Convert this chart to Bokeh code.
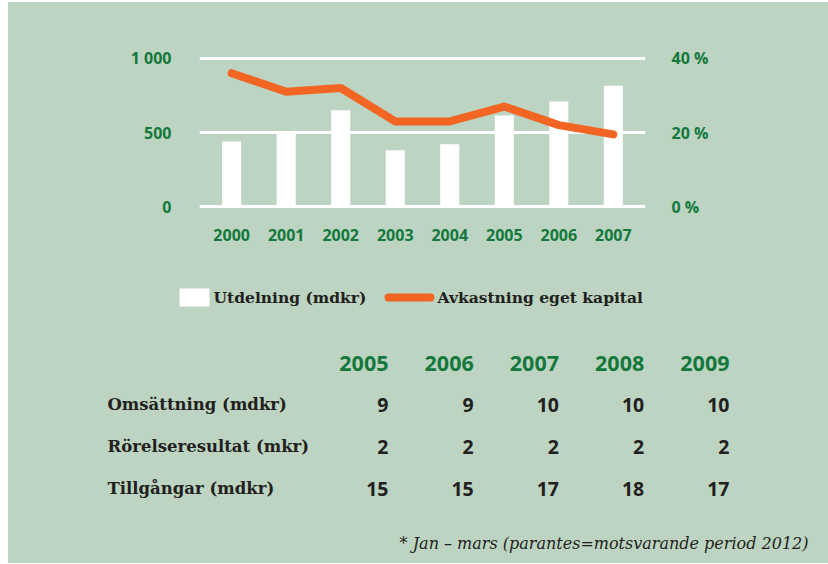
from bokeh.plotting import figure
from bokeh.models import (Range1d, FactorRange, LinearAxis, FixedTicker, ColumnDataSource)
from bokeh.layouts import column
from bokeh.core.properties import value
from bokeh.embed import file_html
from bokeh.resources import INLINE

# ---------------- data ----------------
years = ["2000", "2001", "2002", "2003", "2004", "2005", "2006", "2007"]
utdelning = [440, 500, 650, 380, 420, 615, 710, 815]          # mdkr
avkastning = [36, 31, 32, 23, 23, 27, 22, 19.5]               # %
left_ticks = [0, 500, 1000]
left_tick_labels = ["0", "500", "1 000"]
right_ticks = [0, 20, 40]
right_tick_labels = ["0 %", "20 %", "40 %"]

table_years = ["2005", "2006", "2007", "2008", "2009"]
row_labels = ["Omsättning (mdkr)", "Rörelseresultat (mkr)", "Tillgångar (mdkr)"]
omsattning = [9, 9, 10, 10, 10]
rorelseresultat = [2, 2, 2, 2, 2]
tillgangar = [15, 15, 17, 18, 17]
legend_labels = ["Utdelning (mdkr)", "Avkastning eget kapital"]
footnote = "* Jan – mars (parantes=motsvarande period 2012)"

# ---------------- styles ----------------
BG = "#bcd4c1"
GREEN = "#14783c"
ORANGE = "#f26522"
DARK = "#231f20"
SANS = "Open Sans"
SERIF = "DejaVu Serif"

OFF_X, OFF_Y = 8, 2
W = 820
HA = 263
HB = 561 - HA

# ---------------- chart ----------------
pA = figure(width=W, height=HA, output_backend="svg", toolbar_location=None,
            x_range=FactorRange(*years, range_padding=0.09, range_padding_units="absolute"),
            y_range=Range1d(-60, 1060), y_axis_location=None,
            min_border_left=191, min_border_right=183, min_border_top=47, min_border_bottom=50)
pA.title.visible = False
pA.frame_align = False
pA.background_fill_color = BG
pA.border_fill_color = BG
pA.outline_line_color = None
pA.extra_y_ranges = {"pct": Range1d(-60 * 0.04, 1060 * 0.04)}

pA.xgrid.grid_line_color = None
pA.ygrid.ticker = FixedTicker(ticks=left_ticks)
pA.ygrid.grid_line_color = "white"
pA.ygrid.grid_line_width = 3
pA.ygrid.level = "underlay"

src = ColumnDataSource(dict(year=years, utd=utdelning, avk=avkastning))
pA.vbar(x="year", top="utd", bottom=0, width=0.35, source=src,
        fill_color="white", line_color=None)
pA.line(x="year", y="avk", source=src, y_range_name="pct",
        line_color=ORANGE, line_width=8, line_cap="round", line_join="round")

def style_axis(ax, standoff):
    ax.axis_line_color = None
    ax.major_tick_line_color = None
    ax.minor_tick_line_color = None
    ax.major_tick_out = 0
    ax.major_tick_in = 0
    ax.major_label_standoff = standoff
    ax.major_label_text_font = SANS
    ax.major_label_text_font_style = "bold"
    ax.major_label_text_font_size = "16px"
    ax.major_label_text_color = GREEN

xa = pA.xaxis[0]
style_axis(xa, 13)

la = LinearAxis(ticker=FixedTicker(ticks=left_ticks),
                major_label_overrides={t: l for t, l in zip(left_ticks, left_tick_labels)})
style_axis(la, 28)
pA.add_layout(la, "left")

ra = LinearAxis(y_range_name="pct", ticker=FixedTicker(ticks=right_ticks),
                major_label_overrides={t: l for t, l in zip(right_ticks, right_tick_labels)})
style_axis(ra, 26)
pA.add_layout(ra, "right")

# ---------------- legend + table ----------------
pB = figure(width=W, height=HB, output_backend="svg", toolbar_location=None,
            x_range=Range1d(0, W), y_range=Range1d(HB, 0),
            x_axis_type=None, y_axis_type=None,
            min_border=0, min_border_left=0, min_border_right=0,
            min_border_top=0, min_border_bottom=0)
pB.title.visible = False
pB.frame_align = False
pB.background_fill_color = BG
pB.border_fill_color = BG
pB.outline_line_color = None
pB.grid.grid_line_color = None

# layout positions (px) relative to this panel
ox = OFF_X
oy = OFF_Y + HA
leg_y = 297 - oy
pB.rect(x=[194 - ox], y=[leg_y], width=30, height=18, fill_color="white", line_color=None)
pB.line(x=[388 - ox, 430 - ox], y=[leg_y, leg_y], line_color=ORANGE, line_width=8, line_cap="round")
pB.text(x=[213 - ox, 437 - ox], y=[leg_y, leg_y], text=legend_labels,
        text_font=value(SERIF), text_font_style="bold", text_font_size="15.5px",
        text_color=DARK, text_baseline="middle", text_align="left")

col_right0 = 388 - ox
col_step = 85.25
col_x = [col_right0 + i * col_step for i in range(len(table_years))]
head_y = 363 - oy
row_y0 = 404 - oy
row_step = 42
pB.text(x=col_x, y=[head_y] * len(col_x), text=table_years,
        text_font=value(SANS), text_font_style="bold", text_font_size="21.5px",
        text_color=GREEN, text_baseline="middle", text_align="right")
rows = [omsattning, rorelseresultat, tillgangar]
for r, (lab, vals) in enumerate(zip(row_labels, rows)):
    y = row_y0 + r * row_step
    pB.text(x=[107 - ox], y=[y], text=[lab],
            text_font=value(SERIF), text_font_style="bold", text_font_size="16.5px",
            text_color=DARK, text_baseline="middle", text_align="left")
    pB.text(x=col_x, y=[y] * len(col_x), text=[str(v) for v in vals],
            text_font=value(SANS), text_font_style="bold", text_font_size="19.5px",
            text_color=DARK, text_baseline="middle", text_align="right")

pB.text(x=[808 - ox], y=[543 - oy], text=[footnote],
        text_font=value(SERIF), text_font_style="italic", text_font_size="16px",
        text_color=DARK, text_baseline="middle", text_align="right")

layout = column(pA, pB, spacing=0, margin=(OFF_Y, 0, 0, OFF_X),
                styles={"background-color": BG})
open("out.html", "w").write(file_html(layout, INLINE))
